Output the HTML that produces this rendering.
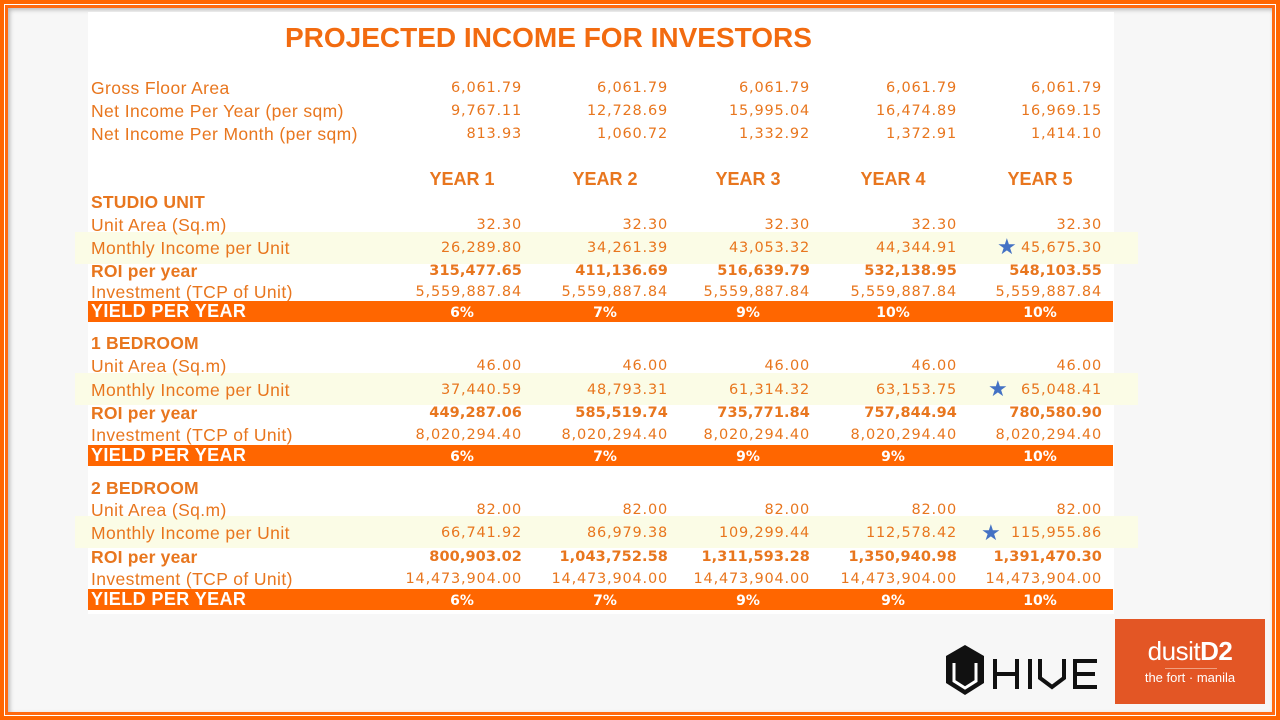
<!DOCTYPE html>
<html><head><meta charset="utf-8"><style>
*{margin:0;padding:0;box-sizing:border-box}
body{width:1280px;height:720px;background:#FF6600;position:relative;overflow:hidden;font-family:"Liberation Sans",sans-serif}
#f1{position:absolute;left:4px;top:4px;width:1272px;height:712px;background:#fff;}
#f2{position:absolute;left:5px;top:5px;width:1270px;height:710px;border:3px solid #FF6A10;background:#f7f7f7;box-shadow:inset 2px 2px 4px rgba(0,0,0,.25)}
#panel{position:absolute;left:88px;top:12px;width:1026px;height:602px;background:#fff}
.hl{position:absolute;left:75px;width:1063px;height:32px;background:#FBFCE6}
.t{position:absolute;color:#E8761E;white-space:nowrap}
.lab{left:91px;font-size:17.5px;letter-spacing:0.4px;line-height:20px;top:0}
.b{font-weight:bold}
.lab.b{letter-spacing:0.2px}
.n{font-family:"DejaVu Sans",sans-serif;font-size:14.5px;letter-spacing:0.8px;line-height:20px;text-align:right;width:180px}
.n.b{letter-spacing:0.1px}
.bar{position:absolute;left:88px;width:1025px;height:21px;background:#FF6600}
.bar span{position:absolute;color:#fff;font-weight:bold;top:0;line-height:21px}
.bar .l{left:3px;font-size:18px;letter-spacing:0.4px}
.bar .p{font-family:"DejaVu Sans",sans-serif;font-size:14px;width:80px;text-align:center;top:2px}
.yh{position:absolute;color:#E8761E;font-weight:bold;font-size:18px;width:120px;text-align:center;line-height:20px}
.star{position:absolute;color:#4472C4;font-size:22px;line-height:20px}
</style></head><body>
<div id="f1"></div><div id="f2"></div>
<div id="panel"></div>
<div class="t b" style="left:285px;top:22px;font-size:28px;line-height:32px;color:#F26B10">PROJECTED INCOME FOR INVESTORS</div>

<div class="hl" style="top:232px"></div>
<div class="hl" style="top:373px"></div>
<div class="hl" style="top:516px"></div>

<div id="rows"></div>
<script>
var cols=[522,668,810,957,1102];
var ctr=[462,605,748,893,1040];
var H='';
function row(y,label,vals,bold){
 H+='<div class="t lab'+(bold?' b':'')+'" style="top:'+(y-9)+'px">'+label+'</div>';
 if(vals) vals.forEach(function(v,i){H+='<div class="t n'+(bold?' b':'')+'" style="left:'+(cols[i]-180)+'px;top:'+(y-9)+'px">'+v+'</div>';});
}
function bar(y,p){
 H+='<div class="bar" style="top:'+y+'px"><span class="l">YIELD PER YEAR</span>';
 p.forEach(function(v,i){H+='<span class="p" style="left:'+(ctr[i]-88-40)+'px">'+v+'</span>';});
 H+='</div>';
}
row(87,'Gross Floor Area',['6,061.79','6,061.79','6,061.79','6,061.79','6,061.79']);
row(110,'Net Income Per Year (per sqm)',['9,767.11','12,728.69','15,995.04','16,474.89','16,969.15']);
row(133,'Net Income Per Month (per sqm)',['813.93','1,060.72','1,332.92','1,372.91','1,414.10']);
['YEAR 1','YEAR 2','YEAR 3','YEAR 4','YEAR 5'].forEach(function(v,i){H+='<div class="yh" style="left:'+(ctr[i]-60)+'px;top:169px">'+v+'</div>';});
row(201,'STUDIO UNIT',null,true);
row(224,'Unit Area (Sq.m)',['32.30','32.30','32.30','32.30','32.30']);
row(247,'Monthly Income per Unit',['26,289.80','34,261.39','43,053.32','44,344.91','45,675.30']);
row(270,'ROI per year',['315,477.65','411,136.69','516,639.79','532,138.95','548,103.55'],true);
row(291,'Investment (TCP of Unit)',['5,559,887.84','5,559,887.84','5,559,887.84','5,559,887.84','5,559,887.84']);
bar(301,['6%','7%','9%','10%','10%']);
row(342,'1 BEDROOM',null,true);
row(365,'Unit Area (Sq.m)',['46.00','46.00','46.00','46.00','46.00']);
row(389,'Monthly Income per Unit',['37,440.59','48,793.31','61,314.32','63,153.75','65,048.41']);
row(412,'ROI per year',['449,287.06','585,519.74','735,771.84','757,844.94','780,580.90'],true);
row(434,'Investment (TCP of Unit)',['8,020,294.40','8,020,294.40','8,020,294.40','8,020,294.40','8,020,294.40']);
bar(445,['6%','7%','9%','9%','10%']);
row(487,'2 BEDROOM',null,true);
row(509,'Unit Area (Sq.m)',['82.00','82.00','82.00','82.00','82.00']);
row(532,'Monthly Income per Unit',['66,741.92','86,979.38','109,299.44','112,578.42','115,955.86']);
row(556,'ROI per year',['800,903.02','1,043,752.58','1,311,593.28','1,350,940.98','1,391,470.30'],true);
row(578,'Investment (TCP of Unit)',['14,473,904.00','14,473,904.00','14,473,904.00','14,473,904.00','14,473,904.00']);
bar(589,['6%','7%','9%','9%','10%']);
H+='<div class="star" style="left:997px;top:237px">★</div>';
H+='<div class="star" style="left:988px;top:379px">★</div>';
H+='<div class="star" style="left:981px;top:523px">★</div>';
document.getElementById('rows').innerHTML=H;
</script>

<svg style="position:absolute;left:942px;top:643px" width="160" height="56" viewBox="0 0 160 56">
<polygon points="23,2 42,13 42,40 23,52 4,40 4,13" fill="#111"/>
<polyline points="12,20 12,38 23,45 34,38 34,20" fill="none" stroke="#fff" stroke-width="3"/>
<rect x="51" y="16" width="4" height="30" fill="#111"/>
<rect x="73" y="16" width="4" height="30" fill="#111"/>
<rect x="51" y="29" width="26" height="4" fill="#111"/>
<rect x="86" y="16" width="4" height="30" fill="#111"/>
<polyline points="98,16 98,35 110,44 122,35 122,16" fill="none" stroke="#111" stroke-width="4"/>
<rect x="131" y="16" width="4" height="30" fill="#111"/>
<rect x="131" y="16" width="24" height="4" fill="#111"/>
<rect x="131" y="29" width="22" height="4" fill="#111"/>
<rect x="131" y="42" width="24" height="4" fill="#111"/>
</svg>

<div style="position:absolute;left:1115px;top:619px;width:150px;height:85px;background:#E35625"></div>
<div style="position:absolute;left:1115px;top:636px;width:150px;text-align:center;color:#fff;font-size:26px;line-height:30px;letter-spacing:-0.5px">dusit<b>D2</b></div>
<div style="position:absolute;left:1165px;top:668px;width:52px;height:1px;background:#f0a080"></div>
<div style="position:absolute;left:1115px;top:670px;width:150px;text-align:center;color:#fff;font-size:13px;line-height:16px">the fort · manila</div>
</body></html>
